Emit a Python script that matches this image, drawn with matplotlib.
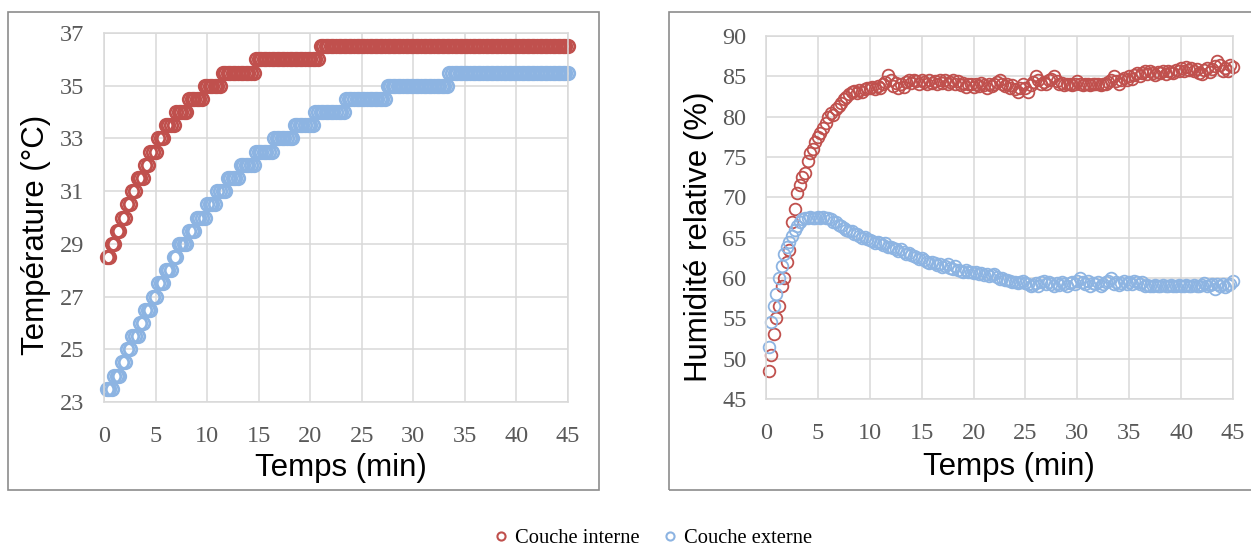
import numpy as np
import matplotlib.pyplot as plt
from matplotlib.patches import Rectangle

# one reading every 15 s, from 0.25 to 45 min
time_step = 0.25
n_samples = 180

# temperature is logged with 0.5 degC resolution -> plateau levels + number of readings on each
temp_int_levels = [28.5, 29.0, 29.5, 30.0, 30.5, 31.0, 31.5, 32.0, 32.5, 33.0, 33.5,
                   34.0, 34.5, 35.0, 35.5, 36.0, 36.5]
temp_int_counts = [2, 2, 2, 2, 2, 2, 3, 2, 3, 3, 4, 5, 6, 7, 13, 25, 97]

temp_ext_levels = [23.5, 24.0, 24.5, 25.0, 25.5, 26.0, 26.5, 27.0, 27.5, 28.0, 28.5, 29.0,
                   29.5, 30.0, 30.5, 31.0, 31.5, 32.0, 32.5, 33.0, 33.5, 34.0, 34.5, 35.0, 35.5]
temp_ext_counts = [3, 3, 2, 2, 3, 2, 3, 2, 3, 3, 2, 4, 3, 4, 4, 4, 5, 6, 7, 8, 8, 12, 16, 24, 47]

# relative humidity (%), one row = 5 min
hr_int = [
    48.5, 50.5, 53.0, 55.0, 56.5, 59.0, 60.0, 62.0, 63.5, 67.0, 68.5, 70.5, 71.5, 72.5, 73.0, 74.5, 75.5, 76.0, 76.8, 77.5,
    78.0, 78.6, 79.2, 80.0, 80.5, 80.2, 81.0, 81.3, 81.7, 82.2, 82.5, 82.8, 83.0, 83.2, 82.9, 83.3, 83.1, 83.4, 83.6, 83.5,
    83.7, 83.4, 83.8, 83.6, 84.0, 84.3, 85.2, 84.6, 83.8, 84.2, 83.6, 84.0, 83.7, 84.3, 84.5, 84.2, 84.6, 84.4, 84.0, 84.5,
    84.3, 84.0, 84.6, 84.2, 84.4, 84.0, 84.5, 84.2, 84.6, 84.0, 84.3, 84.5, 84.1, 84.4, 83.9, 84.2, 83.7, 84.0, 84.1, 83.7,
    84.0, 83.8, 84.2, 83.9, 83.6, 84.1, 83.8, 84.0, 84.3, 84.5, 84.0, 83.8, 84.1, 83.6, 83.9, 83.4, 83.0, 83.6, 84.0, 83.5,
    83.1, 83.9, 84.3, 85.0, 84.6, 84.0, 84.3, 84.0, 84.5, 84.7, 85.0, 84.4, 84.0, 84.2, 83.9, 84.1, 84.0, 83.9, 84.1, 84.4,
    84.0, 83.9, 84.1, 84.0, 83.9, 84.0, 84.1, 84.0, 83.9, 84.1, 84.0, 84.3, 84.6, 85.0, 84.4, 84.0, 84.5, 84.8, 84.6, 85.0,
    84.7, 85.2, 85.4, 85.0, 85.4, 85.6, 85.3, 85.6, 85.4, 85.2, 85.5, 85.4, 85.6, 85.3, 85.7, 85.5, 85.4, 85.8, 85.6, 86.0,
    85.7, 86.1, 85.8, 86.0, 85.6, 85.9, 85.4, 85.3, 85.8, 86.0, 85.5, 85.9, 86.3, 86.9, 86.4, 85.6, 86.0, 85.7, 86.4, 86.1,
]
hr_ext = [
    51.5, 54.5, 56.5, 58.0, 60.0, 61.5, 63.0, 63.8, 64.5, 65.2, 65.9, 66.5, 66.9, 67.3, 67.5, 67.5, 67.6, 67.5, 67.5, 67.6,
    67.5, 67.6, 67.5, 67.4, 67.3, 67.0, 66.9, 66.6, 66.4, 66.2, 66.0, 65.8, 65.8, 65.5, 65.4, 65.2, 65.0, 65.1, 64.8, 64.7,
    64.6, 64.4, 64.5, 64.3, 64.1, 64.3, 63.9, 63.8, 63.7, 63.6, 63.4, 63.6, 63.2, 63.0, 63.1, 62.8, 62.7, 62.6, 62.4, 62.5,
    62.2, 62.0, 61.9, 62.0, 61.8, 61.6, 61.7, 61.4, 61.5, 61.7, 61.2, 61.1, 61.5, 61.0, 60.9, 60.8, 61.0, 60.7, 60.8, 60.6,
    60.7, 60.5, 60.6, 60.4, 60.5, 60.3, 60.4, 60.5, 60.1, 59.9, 60.0, 59.7, 59.8, 59.6, 59.5, 59.5, 59.4, 59.5, 59.6, 59.4,
    59.2, 59.0, 59.1, 59.4, 59.0, 59.5, 59.6, 59.3, 59.5, 59.2, 59.0, 59.4, 59.1, 59.5, 59.3, 59.0, 59.4, 59.5, 59.2, 59.6,
    60.0, 59.5, 59.2, 59.6, 59.0, 59.4, 59.2, 59.5, 59.0, 59.3, 59.5, 59.6, 60.0, 59.3, 59.5, 59.1, 59.4, 59.6, 59.2, 59.5,
    59.3, 59.6, 59.5, 59.2, 59.5, 59.0, 59.1, 59.0, 59.0, 59.1, 59.0, 59.0, 59.1, 59.0, 59.0, 59.1, 59.0, 59.0, 59.1, 59.0,
    59.0, 59.1, 59.0, 59.0, 59.1, 59.0, 59.0, 59.1, 59.4, 59.0, 59.1, 59.2, 58.6, 59.3, 59.0, 59.2, 58.9, 59.1, 59.2, 59.6,
]

x_ticks = [0, 5, 10, 15, 20, 25, 30, 35, 40, 45]
temp_ticks = [23, 25, 27, 29, 31, 33, 35, 37]
hr_ticks = [45, 50, 55, 60, 65, 70, 75, 80, 85, 90]

labels = ['Couche interne', 'Couche externe']
red = '#C0504D'
blue = '#8DB4E2'
grid_col = '#D9D9D9'

time = np.arange(1, n_samples + 1) * time_step
temp_int = np.repeat(temp_int_levels, temp_int_counts)
temp_ext = np.repeat(temp_ext_levels, temp_ext_counts)

W, H = 1251, 547
fig = plt.figure(figsize=(W / 100, H / 100), dpi=100)

# outer chart frames (Excel chart area)
for x0, x1 in [(8, 599), (669, 1260)]:
    fig.patches.append(Rectangle((x0 / W, 1 - 490 / H), (x1 - x0) / W, 478 / H,
                                 transform=fig.transFigure, fill=False,
                                 edgecolor='#8C8C8C', linewidth=1.2))

ax1 = fig.add_axes([104 / W, 1 - 402 / H, 464 / W, 369 / H])
ax2 = fig.add_axes([766 / W, 1 - 399 / H, 467 / W, 363 / H])


def style_axis(ax, yticks, xlabel, ylabel, xl_pos, yl_pos):
    ax.set_xlim(0, 45)
    ax.set_ylim(yticks[0], yticks[-1])
    ax.set_xticks(x_ticks)
    ax.set_yticks(yticks)
    ax.grid(True, color=grid_col, linewidth=1.1)
    ax.set_axisbelow(True)
    for s in ax.spines.values():
        s.set_color(grid_col)
        s.set_linewidth(1.1)
    ax.tick_params(length=0, labelsize=17.5, labelcolor='#595959')
    ax.tick_params(axis='y', pad=14)
    ax.tick_params(axis='x', pad=17)
    for lab in ax.get_xticklabels() + ax.get_yticklabels():
        lab.set_family('Liberation Serif')
    ax.set_xlabel(xlabel, fontsize=22.5, family='Liberation Sans')
    ax.set_ylabel(ylabel, fontsize=22.5, family='Liberation Sans')
    ax.xaxis.label.set_va('center')
    ax.yaxis.label.set_va('center')
    ax.xaxis.set_label_coords(*xl_pos)
    ax.yaxis.set_label_coords(*yl_pos)


ax1.plot(time, temp_int, 'o', ls='none', mfc='none', mec=red, ms=9, mew=2.0,
         clip_on=False, label=labels[0])
ax1.plot(time, temp_ext, 'o', ls='none', mfc='none', mec=blue, ms=9, mew=2.0,
         clip_on=False, label=labels[1])
style_axis(ax1, temp_ticks, 'Temps (min)', 'Température (°C)', (0.511, -0.18), (-0.147, 0.453))

ax2.plot(time, hr_int, 'o', ls='none', mfc='none', mec=red, ms=8.4, mew=1.3, clip_on=False)
ax2.plot(time, hr_ext, 'o', ls='none', mfc='none', mec=blue, ms=8.4, mew=1.3, clip_on=False)
style_axis(ax2, hr_ticks, 'Temps (min)', 'Humidité relative (%)', (0.52, -0.187), (-0.1435, 0.446))

handles = ax1.get_legend_handles_labels()[0]
leg = fig.legend(handles, labels, loc='center', bbox_to_anchor=(0.522, 1 - 538 / H), ncol=2,
                 frameon=False, markerscale=0.65, handlelength=0.7, handletextpad=0.35,
                 columnspacing=1.1, prop={'family': 'Liberation Serif', 'size': 14.8})
for h in leg.legend_handles:
    h.set_markeredgewidth(1.5)

fig.savefig('out.png', dpi=100)
